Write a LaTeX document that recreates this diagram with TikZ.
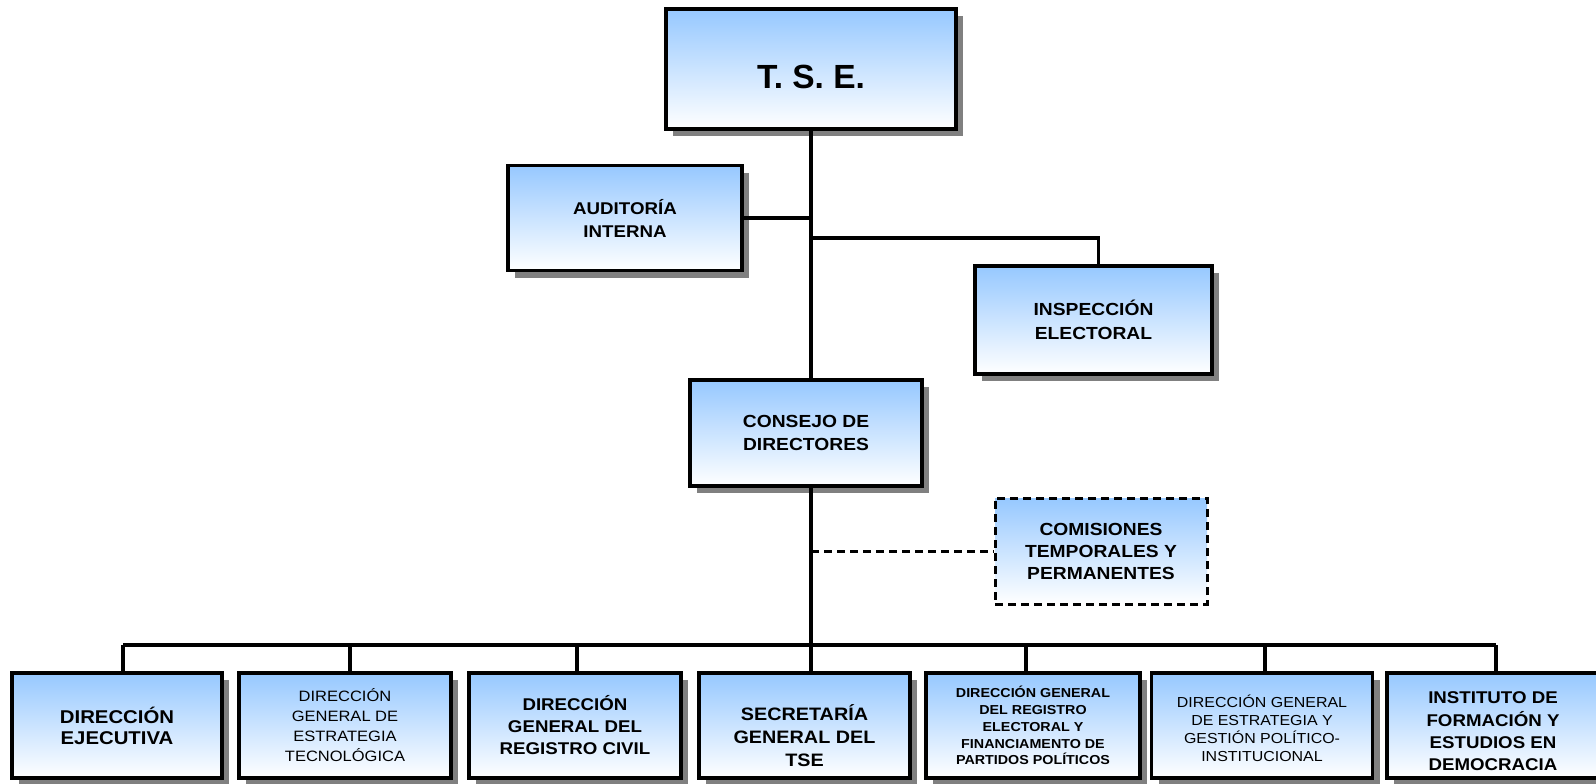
\documentclass[tikz,border=0pt]{standalone}
\usepackage{fontspec}
\setmainfont{Liberation Sans}
\newfontfamily\wide{Liberation Sans}[FakeStretch=1.1]
\usetikzlibrary{shadows}
\definecolor{topblue}{RGB}{150,200,255}
\begin{document}
\begin{tikzpicture}[x=1pt,y=-1pt,
  box/.style={draw=black, line width=3.2pt, top color=topblue, bottom color=white,
    align=center, inner sep=0pt,
    drop shadow={shadow xshift=7pt, shadow yshift=-7pt, fill=black!50, opacity=1}},
  dbox/.style={draw=black, line width=3pt, dash pattern=on 8pt off 5pt,
    top color=topblue, bottom color=white, align=center, inner sep=0pt},
  tx/.style={align=center, inner sep=0pt},
  link/.style={line width=3.2pt},
  dlink/.style={line width=3pt, dash pattern=on 8pt off 5pt},
  bf/.style={font=\wide\bfseries\fontsize{#1}{23.5}\selectfont},
  lowbox/.style={box, minimum width=#1, minimum height=105pt}
]
\useasboundingbox[fill=white] (0,0) rectangle (1596,784);

\node[box, minimum width=290pt, minimum height=120pt] (tse) at (811,69) {};
\node[tx, font=\bfseries\fontsize{33.5}{40}\selectfont] (tset) at ([yshift=-8pt]tse.center) {T. S. E.};
\node[box, minimum width=234pt, minimum height=105pt, font=\wide\bfseries\fontsize{17}{23}\selectfont] (aud) at (625,218) {AUDITORÍA\\INTERNA};
\node[box, minimum width=237pt, minimum height=108pt, bf=17.5] (insp) at (1093.5,320) {INSPECCIÓN\\ELECTORAL};
\node[box, minimum width=232pt, minimum height=106pt, bf=17.5] (cons) at (806,433) {CONSEJO DE\\DIRECTORES};
\node[dbox, minimum width=212pt, minimum height=106pt, font=\wide\bfseries\fontsize{17.5}{22}\selectfont] (com) at (1101,551) {COMISIONES\\TEMPORALES Y\\PERMANENTES};

\node[lowbox=210pt, font=\wide\bfseries\fontsize{18.5}{21}\selectfont] (b1) at (117,725.5) {DIRECCIÓN\\EJECUTIVA};
\node[lowbox=212pt, font=\wide\fontsize{15}{20}\selectfont] (b2) at (345,725.5) {DIRECCIÓN\\GENERAL DE\\ESTRATEGIA\\TECNOLÓGICA};
\node[lowbox=212pt, font=\wide\bfseries\fontsize{17}{22}\selectfont] (b3) at (575,725.5) {DIRECCIÓN\\GENERAL DEL\\REGISTRO CIVIL};
\node[lowbox=211pt] (b4) at (804.5,725.5) {};
\node[tx, font=\wide\bfseries\fontsize{18}{23}\selectfont] (b4t) at ([yshift=-10pt]b4.center) {SECRETARÍA\\GENERAL DEL\\TSE};
\node[lowbox=214pt, font=\wide\bfseries\fontsize{13}{16.8}\selectfont] (b5) at (1033,725.5) {DIRECCIÓN GENERAL\\DEL REGISTRO\\ELECTORAL Y\\FINANCIAMENTO DE\\PARTIDOS POLÍTICOS};
\node[lowbox=221pt] (b6) at (1262,725.5) {};
\node[tx, font=\wide\fontsize{14.5}{18}\selectfont] (b6t) at ([yshift=-3pt]b6.center) {DIRECCIÓN GENERAL\\DE ESTRATEGIA Y\\GESTIÓN POLÍTICO-\\INSTITUCIONAL};
\node[lowbox=212pt] (b7) at (1493,725.5) {};
\node[tx, font=\wide\bfseries\fontsize{17}{22.4}\selectfont] (b7t) at ([yshift=-6pt]b7.center) {INSTITUTO DE\\FORMACIÓN Y\\ESTUDIOS EN\\DEMOCRACIA};

% connectors
\draw[link] (tse.south) -- (tse.south |- cons.north);
\draw[link] (aud.east) -- (aud.east -| tse.south);
\coordinate (j1) at (811,238);
\draw[link] (j1) -| ([xshift=5pt]insp.north);
\draw[link] (cons.south -| tse.south) -- (b4.north -| tse.south);
\coordinate (j2) at (811,551);
\draw[dlink] (j2) -- (com.west);
\coordinate (busL) at (123,645);
\coordinate (busR) at (1496,645);
\draw[link] (busL) -- (busR);
\draw[link] (busL) -- (busL |- b1.north);
\draw[link] (busR) -- (busR |- b7.north);
\draw[link] ([xshift=5pt]b2.north |- busL) -- ([xshift=5pt]b2.north);
\draw[link] ([xshift=2pt]b3.north |- busL) -- ([xshift=2pt]b3.north);
\draw[link] ([xshift=-7pt]b5.north |- busL) -- ([xshift=-7pt]b5.north);
\draw[link] ([xshift=3pt]b6.north |- busL) -- ([xshift=3pt]b6.north);
\end{tikzpicture}
\end{document}
